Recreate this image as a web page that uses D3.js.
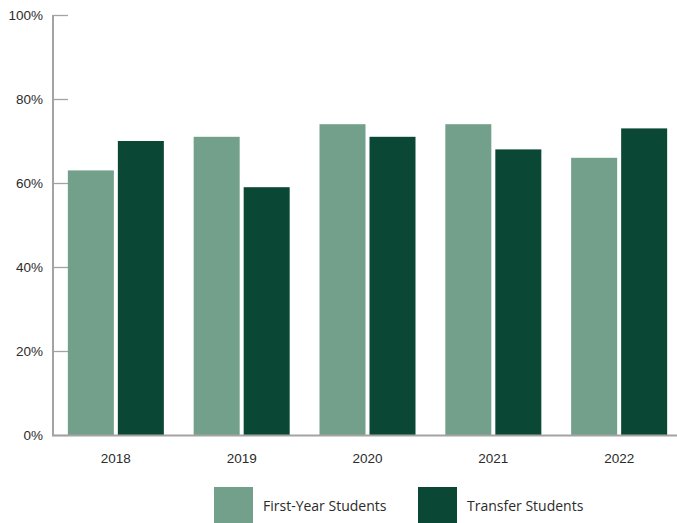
<!DOCTYPE html>
<html>
<head>
<meta charset="utf-8">
<script src="https://cdn.jsdelivr.net/npm/d3@7"></script>
<style>
  html, body { margin: 0; padding: 0; background: #fff; }
  svg { display: block; font-family: "Open Sans", "Noto Sans", sans-serif; }
</style>
</head>
<body>
<svg id="chart" width="677" height="523"></svg>
<script>
// Chart data
const years = ["2018", "2019", "2020", "2021", "2022"];
const seriesNames = ["First-Year Students", "Transfer Students"];
const firstYear = [63, 71, 74, 74, 66];
const transfer = [70, 59, 71, 68, 73];
const yTicks = [0, 20, 40, 60, 80, 100];
const colors = ["#72a08b", "#0a4835"];

const seriesValues = [firstYear, transfer];
const rows = years.map((y, i) => ({
  year: y,
  values: seriesNames.map((s, j) => ({ series: s, value: seriesValues[j][i] }))
}));

const svg = d3.select("#chart");
const axisColor = "#a3a3a3";
const textColor = "#2b2b2b";

const x0 = d3.scaleBand().domain(years).range([53, 682])
  .paddingInner(0.237).paddingOuter(0.118);
const x1 = d3.scaleBand().domain(seriesNames).range([0, x0.bandwidth()])
  .paddingInner(0.08);
const y = d3.scaleLinear().domain([0, 100]).range([435, 15]);
const color = d3.scaleOrdinal().domain(seriesNames).range(colors);

// Y axis: ticks point into the plot
const yAxis = svg.append("g")
  .attr("transform", "translate(53,0)")
  .call(d3.axisRight(y).tickValues(yTicks).tickSize(15).tickFormat(d => d + "%"));
yAxis.select(".domain").remove();
yAxis.selectAll(".tick line").attr("stroke", axisColor).attr("stroke-width", 1.3);
yAxis.selectAll(".tick text")
  .attr("x", -10).attr("text-anchor", "end")
  .attr("fill", textColor).style("font-size", "13.5px");

// Bars
const groups = svg.append("g").selectAll("g").data(rows).join("g")
  .attr("transform", d => `translate(${x0(d.year)},0)`);
groups.selectAll("rect").data(d => d.values).join("rect")
  .attr("x", d => x1(d.series))
  .attr("y", d => y(d.value))
  .attr("width", x1.bandwidth())
  .attr("height", d => y(0) - y(d.value))
  .attr("fill", d => color(d.series));

// Axis lines
svg.append("line")
  .attr("x1", 53).attr("x2", 53).attr("y1", 15).attr("y2", 436)
  .attr("stroke", axisColor).attr("stroke-width", 2);
svg.append("line")
  .attr("x1", 52).attr("x2", 677).attr("y1", 435.5).attr("y2", 435.5)
  .attr("stroke", axisColor).attr("stroke-width", 2);

// X labels
const xAxis = svg.append("g")
  .attr("transform", "translate(0,436)")
  .call(d3.axisBottom(x0).tickSize(0).tickPadding(17));
xAxis.select(".domain").remove();
xAxis.selectAll(".tick text").attr("fill", textColor).style("font-size", "13.5px");

// Legend
const legendX = [214, 418];
const legend = svg.append("g").selectAll("g").data(seriesNames).join("g")
  .attr("transform", (d, i) => `translate(${legendX[i]},487)`);
legend.append("rect")
  .attr("width", 39).attr("height", 36)
  .attr("fill", d => color(d));
legend.append("text")
  .attr("x", 49).attr("y", 19).attr("dy", "0.35em")
  .attr("fill", textColor).style("font-size", "14px")
  .text(d => d);
</script>
</body>
</html>
